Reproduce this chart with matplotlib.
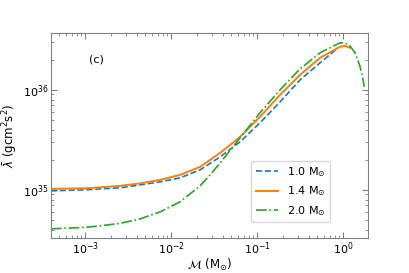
import matplotlib
matplotlib.use("Agg")
import matplotlib.pyplot as plt
import numpy as np

# chirp mass M (Msun) vs log10 of lambda-bar (g cm^2 s^2)
m_10 = [4e-4, 1e-3, 1.49e-3, 2.55e-3, 4.37e-3, 7.45e-3, 1.27e-2, 2.17e-2, 3.72e-2, 6.34e-2, 0.108, 0.185, 0.316, 0.54, 0.875]
lam_10 = [34.99, 35.0, 35.01, 35.02, 35.05, 35.08, 35.12, 35.20, 35.33, 35.48, 35.67, 35.88, 36.10, 36.27, 36.42]

m_14 = [4e-4, 1e-3, 1.49e-3, 2.55e-3, 4.37e-3, 7.45e-3, 1.27e-2, 2.17e-2, 3.72e-2, 6.34e-2, 0.108, 0.185, 0.316, 0.54, 0.92, 1.05, 1.2]
lam_14 = [35.01, 35.015, 35.025, 35.04, 35.065, 35.10, 35.15, 35.23, 35.37, 35.53, 35.73, 35.95, 36.15, 36.32, 36.43, 36.44, 36.42]

m_20 = [4e-4, 1e-3, 1.49e-3, 2.55e-3, 4.37e-3, 7.45e-3, 1.27e-2, 2.17e-2, 2.84e-2, 3.72e-2, 6.34e-2, 0.108, 0.185, 0.316, 0.54, 0.92, 1.05, 1.2, 1.38, 1.58, 1.71, 1.76]
lam_20 = [34.61, 34.625, 34.64, 34.665, 34.71, 34.78, 34.88, 35.04, 35.15, 35.27, 35.52, 35.77, 36.0, 36.21, 36.37, 36.47, 36.47, 36.44, 36.37, 36.23, 36.10, 36.03]

labels = [r"1.0 M$_{\odot}$", r"1.4 M$_{\odot}$", r"2.0 M$_{\odot}$"]

fig = plt.figure(figsize=(4.09, 2.73), dpi=100)
ax = fig.add_axes([51/409, 1 - 238/273, 317/409, 205/273])

ax.plot(m_10, 10**np.array(lam_10), "--", color="tab:blue", lw=1.2, label=labels[0])
ax.plot(m_14, 10**np.array(lam_14), "-", color="tab:orange", lw=1.4, label=labels[1])
ax.plot(m_20, 10**np.array(lam_20), "-.", color="tab:green", lw=1.2, label=labels[2])

ax.set_xscale("log")
ax.set_yscale("log")
ax.set_xlim(4e-4, 1.95)
ax.set_ylim(3.3e34, 3.7e36)

for s in ax.spines.values():
    s.set_color("gray")
ax.tick_params(which="both", direction="in", top=True, right=True, color="gray", labelsize=8, pad=2)
ax.tick_params(which="major", length=4)
ax.tick_params(which="minor", length=2)

ax.set_xlabel(r"$\mathcal{M}$ (M$_{\odot}$)", fontsize=8.5, labelpad=0)
ax.set_ylabel(r"$\bar{\lambda}$ (gcm$^2$s$^2$)", fontsize=8.5, labelpad=2)
ax.text(0.12, 0.87, "(c)", transform=ax.transAxes, fontsize=8, va="center")

ax.legend(loc="lower right", bbox_to_anchor=(0.88, 0.078), borderaxespad=0,
          fontsize=8, handlelength=2.0)

fig.savefig("out.png", dpi=100)
